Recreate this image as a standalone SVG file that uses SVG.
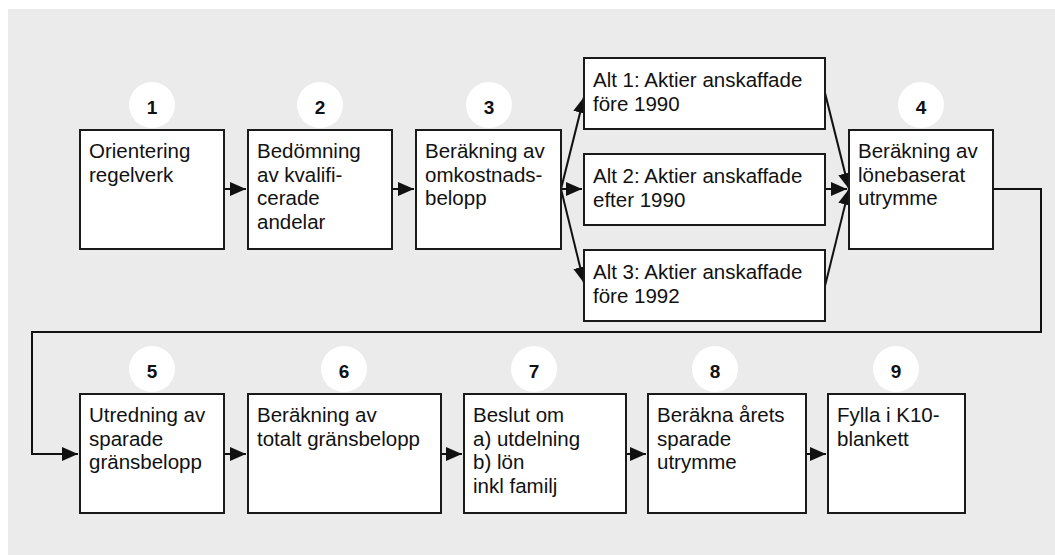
<svg xmlns="http://www.w3.org/2000/svg" width="1055" height="555" viewBox="0 0 1055 555">
<style>
.box{fill:#fff;stroke:#1a1a1a;stroke-width:2}
.num{fill:#fff}
.t{font-family:"Liberation Sans",Arial,sans-serif;font-size:20.5px;fill:#111}
.n{font-family:"Liberation Sans",Arial,sans-serif;font-size:19px;font-weight:bold;fill:#111;text-anchor:middle}
.c{fill:none;stroke:#111;stroke-width:2}
</style>
<defs>
<marker id="ah" markerUnits="userSpaceOnUse" markerWidth="17" markerHeight="15" refX="16" refY="7" orient="auto">
<path d="M0,0 L16,7 L0,14 z" fill="#111"/>
</marker>
</defs>
<rect x="8" y="9" width="1047" height="546" fill="#ebebeb"/>

<g id="connectors">
<path class="c" d="M224,189 H246" marker-end="url(#ah)"/>
<path class="c" d="M392,189 H414" marker-end="url(#ah)"/>
<path class="c" d="M561,189 L584,97" marker-end="url(#ah)"/>
<path class="c" d="M561,189 H582" marker-end="url(#ah)"/>
<path class="c" d="M561,189 L584,283" marker-end="url(#ah)"/>
<path class="c" d="M825,93 L849,189" marker-end="url(#ah)"/>
<path class="c" d="M825,189 H847" marker-end="url(#ah)"/>
<path class="c" d="M825,286 L849,189" marker-end="url(#ah)"/>
<path class="c" d="M993,189 H1041 V332 H32 V454 H78" marker-end="url(#ah)"/>
<path class="c" d="M224,454 H246" marker-end="url(#ah)"/>
<path class="c" d="M441,454 H462" marker-end="url(#ah)"/>
<path class="c" d="M626,454 H646" marker-end="url(#ah)"/>
<path class="c" d="M806,454 H826" marker-end="url(#ah)"/>
</g>

<g id="n1">
<circle class="num" cx="152" cy="105" r="23"/>
<rect class="box" x="80" y="130" width="144" height="119"/>
<text class="n" x="152" y="114">1</text>
<text class="t" x="89" y="158">Orientering<tspan x="89" dy="23.7">regelverk</tspan></text>
</g>
<g id="n2">
<circle class="num" cx="320" cy="105" r="23"/>
<rect class="box" x="248" y="130" width="144" height="119"/>
<text class="n" x="320" y="114">2</text>
<text class="t" x="257" y="158">Bedömning<tspan x="257" dy="23.7">av kvalifi-</tspan><tspan x="257" dy="23.7">cerade</tspan><tspan x="257" dy="23.7">andelar</tspan></text>
</g>
<g id="n3">
<circle class="num" cx="489" cy="105" r="23"/>
<rect class="box" x="416" y="130" width="145" height="119"/>
<text class="n" x="489" y="114">3</text>
<text class="t" x="425" y="158">Beräkning av<tspan x="425" dy="23.7">omkostnads-</tspan><tspan x="425" dy="23.7">belopp</tspan></text>
</g>
<g id="alt1">
<rect class="box" x="584" y="58" width="241" height="71"/>
<text class="t" x="593" y="87">Alt 1: Aktier anskaffade<tspan x="593" dy="23.7">före 1990</tspan></text>
</g>
<g id="alt2">
<rect class="box" x="584" y="154" width="241" height="71"/>
<text class="t" x="593" y="183">Alt 2: Aktier anskaffade<tspan x="593" dy="23.7">efter 1990</tspan></text>
</g>
<g id="alt3">
<rect class="box" x="584" y="250" width="241" height="71"/>
<text class="t" x="593" y="279">Alt 3: Aktier anskaffade<tspan x="593" dy="23.7">före 1992</tspan></text>
</g>
<g id="n4">
<circle class="num" cx="921" cy="105" r="23"/>
<rect class="box" x="849" y="130" width="144" height="119"/>
<text class="n" x="921" y="114">4</text>
<text class="t" x="858" y="158">Beräkning av<tspan x="858" dy="23.7">lönebaserat</tspan><tspan x="858" dy="23.7">utrymme</tspan></text>
</g>

<g id="n5">
<circle class="num" cx="152" cy="369" r="23"/>
<rect class="box" x="80" y="394" width="144" height="119"/>
<text class="n" x="152" y="378">5</text>
<text class="t" x="89" y="422">Utredning av<tspan x="89" dy="23.7">sparade</tspan><tspan x="89" dy="23.7">gränsbelopp</tspan></text>
</g>
<g id="n6">
<circle class="num" cx="344" cy="369" r="23"/>
<rect class="box" x="248" y="394" width="193" height="119"/>
<text class="n" x="344" y="378">6</text>
<text class="t" x="257" y="422">Beräkning av<tspan x="257" dy="23.7">totalt gränsbelopp</tspan></text>
</g>
<g id="n7">
<circle class="num" cx="534" cy="369" r="23"/>
<rect class="box" x="464" y="394" width="162" height="119"/>
<text class="n" x="534" y="378">7</text>
<text class="t" x="473" y="422">Beslut om<tspan x="473" dy="23.7">a) utdelning</tspan><tspan x="473" dy="23.7">b) lön</tspan><tspan x="473" dy="23.7">inkl familj</tspan></text>
</g>
<g id="n8">
<circle class="num" cx="715" cy="369" r="23"/>
<rect class="box" x="648" y="394" width="158" height="119"/>
<text class="n" x="715" y="378">8</text>
<text class="t" x="657" y="422">Beräkna årets<tspan x="657" dy="23.7">sparade</tspan><tspan x="657" dy="23.7">utrymme</tspan></text>
</g>
<g id="n9">
<circle class="num" cx="896" cy="369" r="23"/>
<rect class="box" x="828" y="394" width="137" height="119"/>
<text class="n" x="896" y="378">9</text>
<text class="t" x="837" y="422">Fylla i K10-<tspan x="837" dy="23.7">blankett</tspan></text>
</g>
</svg>
